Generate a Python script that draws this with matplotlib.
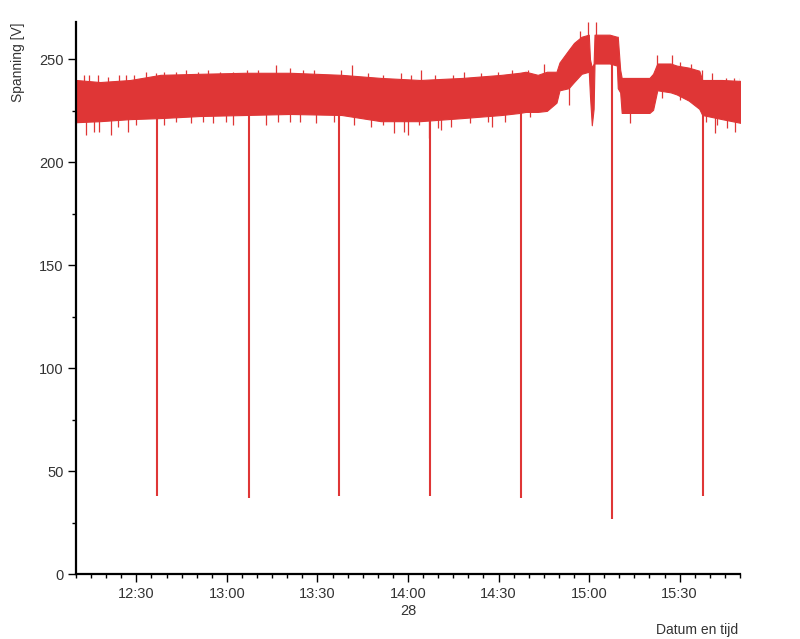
import numpy as np
import matplotlib
matplotlib.use("Agg")
import matplotlib.pyplot as plt
from matplotlib.ticker import FixedLocator, MultipleLocator

# time in minutes after 12:00 (day 28)
band_time = [10, 18, 28, 38, 51, 66, 81, 98, 111, 124, 138, 151, 157, 159, 163, 166,
             169.2, 170.2, 173.2, 175, 177.5, 179.9, 180.3, 180.9, 181.5, 181.8,
             186.8, 189.2, 189.5, 190.3, 190.8, 200, 201.2, 202.6, 207, 209, 213,
             216.5, 217.5, 224, 230.8]
band_high = [240, 239, 240, 242.5, 243, 243.5, 243.5, 242.5, 241, 240, 241, 242.5, 243.5, 244,
             242.5, 244, 244, 248.5, 254.5, 258, 261, 262, 250, 246, 248, 262,
             262, 261, 261, 245, 241, 241, 243, 248, 248, 247, 246,
             244.5, 240, 240, 239.5]
band_low = [219.5, 220, 221, 221.5, 222.5, 223, 223.5, 223, 220, 220, 221.5, 223, 224, 224.5,
            224.5, 225, 229, 235, 236, 239, 243, 244, 232, 218, 226, 248,
            248, 247, 236, 234, 224, 224, 225.5, 235, 234, 233, 230,
            226, 223, 221, 219]

spike_up_time = [12.7, 14.4, 17.2, 20.5, 24.3, 26.6, 29.3, 33.2, 36.6, 39.3, 43.2, 46.5,
                 50.4, 53.7, 57.6, 62.1, 66.5, 70.4, 76.1, 80.9, 85.3, 88.9, 97.7, 101.6,
                 106.6, 111.6, 117.7, 121.0, 124.3, 128.8, 134.9, 138.7, 144.3, 149.9,
                 154.3, 159.8, 164.9, 176.9, 179.6, 182.3, 202.5, 207.5, 210.2, 213.6,
                 217.4, 220.8, 225.2, 228.0, 229.9]
spike_up_value = [242.4, 242.4, 242.4, 241.6, 242.4, 242.4, 242.4, 244, 243.2, 244, 244, 244.8,
                  244, 244.8, 244, 244, 244.8, 244.8, 247.2, 245.6, 244.8, 244.8, 244.8, 247.2,
                  243.2, 242.4, 243.2, 242.4, 244.8, 242.4, 242.4, 244, 243.2, 244,
                  244.8, 244.8, 248, 264, 268, 268, 252, 252, 248.8, 248,
                  244.8, 243.2, 240.8, 240.8, 240.8]

spike_down_time = [13.3, 16.0, 17.7, 21.6, 23.8, 27.1, 29.9, 39.3, 43.2, 48.2, 52.1, 55.4,
                   59.8, 62.1, 73.1, 77.0, 80.9, 84.2, 89.4, 95.5, 102.2, 107.7, 111.6,
                   115.5, 118.8, 120.0, 123.8, 127.0, 129.9, 131.0, 134.3, 140.4, 146.5,
                   147.7, 152.0, 160.3, 173.3, 193.6, 204.2, 210.2, 218.6, 221.7, 222.5,
                   225.8, 228.5, 230.2]
spike_down_value = [213.4, 214.9, 214.9, 213.4, 217.3, 214.9, 218.1, 218.1, 219.7, 218.9, 219.7, 218.9,
                    219.7, 218.1, 218.1, 219.7, 219.7, 219.7, 218.9, 219.7, 218.1, 217.3, 218.1,
                    214.1, 214.9, 213.3, 218.1, 212, 216.5, 215.5, 217.3, 218.9, 219.7,
                    217, 219.7, 222, 228, 219, 231.1, 230.2, 219.7, 214.5, 218.1,
                    216.5, 214.9, 214.1]

dip_time = [36.9, 67.2, 97.1, 127.4, 157.6, 187.5, 217.8]
dip_value = [38, 37, 38, 38, 37, 27, 38]

tick_minutes = [30, 60, 90, 120, 150, 180, 210]
tick_labels = ["12:30", "13:00", "13:30", "14:00\n28", "14:30", "15:00", "15:30"]

RED = "#DF3636"
TXT = "#333333"
plt.rcParams["font.family"] = ["Liberation Sans", "DejaVu Sans"]

fig = plt.figure(figsize=(8, 6.39), dpi=100)
ax = fig.add_axes([76/800, 1-574.3/639, (740-76)/800, (574.3-21.7)/639])

bt = np.array(band_time)
bh = np.array(band_high)
bl = np.array(band_low)
ax.fill_between(bt, bl, bh, color=RED, linewidth=0.8, edgecolor=RED)
mid = (bh + bl) / 2
ax.vlines(spike_up_time, np.interp(spike_up_time, bt, mid), spike_up_value, color=RED, lw=0.9)
ax.vlines(spike_down_time, spike_down_value, np.interp(spike_down_time, bt, mid), color=RED, lw=0.9)
ax.vlines(dip_time, dip_value, np.interp(dip_time, bt, mid), color=RED, lw=1.5)

ax.set_xlim(10, 230)
ax.set_ylim(0, 268.3)

for s in ["top", "right"]:
    ax.spines[s].set_visible(False)
for s in ["left", "bottom"]:
    ax.spines[s].set_linewidth(1.6)
    ax.spines[s].set_color("black")

ax.xaxis.set_major_locator(FixedLocator(tick_minutes))
ax.set_xticklabels(tick_labels)
ax.xaxis.set_minor_locator(MultipleLocator(5))
ax.yaxis.set_major_locator(MultipleLocator(50))
ax.yaxis.set_minor_locator(MultipleLocator(25))
ax.tick_params(axis="both", which="major", length=5.5, width=1.0, color="black",
               labelsize=10.5, labelcolor=TXT, pad=3.5)
ax.tick_params(axis="both", which="minor", length=3, width=1.0, color="black")
for lab in ax.get_xticklabels():
    lab.set_linespacing(1.25)

fig.text(18/800, 1-22/639, "Spanning [V]", rotation=90, ha="center", va="top",
         fontsize=10, color=TXT)
fig.text(738/800, 1-630/639, "Datum en tijd", ha="right", va="center",
         fontsize=10, color=TXT)

fig.savefig("out.png", dpi=100)
